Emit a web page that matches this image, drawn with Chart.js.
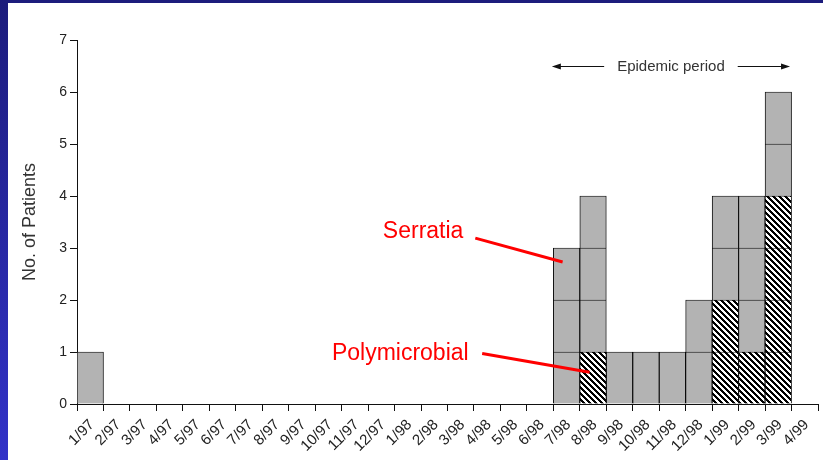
<!DOCTYPE html>
<html>
<head>
<meta charset="utf-8">
<script src="https://cdn.jsdelivr.net/npm/chart.js@4.4.0/dist/chart.umd.min.js"></script>
<style>
html, body { margin: 0; padding: 0; background: #fff; }
#wrap { position: relative; width: 823px; height: 460px; overflow: hidden; }
#frameTop { position: absolute; left: 0; top: 0; width: 823px; height: 3px; background: #1c1c7c; }
#frameLeft { position: absolute; left: 0; top: 0; width: 8px; height: 460px; background: linear-gradient(#1c1c7c, #3232c8); }
canvas { position: absolute; left: 0; top: 0; }
</style>
</head>
<body>
<div id="wrap">
  <canvas id="chart" width="823" height="460"></canvas>
  <div id="frameTop"></div>
  <div id="frameLeft"></div>
</div>
<script>
// month tick labels, one per tick (bars sit between ticks)
var monthLabels = ['1/97','2/97','3/97','4/97','5/97','6/97','7/97','8/97','9/97','10/97','11/97','12/97',
                   '1/98','2/98','3/98','4/98','5/98','6/98','7/98','8/98','9/98','10/98','11/98','12/98',
                   '1/99','2/99','3/99','4/99'];
// patients per month, 1/97 .. 3/99
var serratiaOnly  = [1,0,0,0,0,0,0,0,0,0,0,0, 0,0,0,0,0,0,3,3,1,1,1,2, 2,3,2];
var polymicrobial = [0,0,0,0,0,0,0,0,0,0,0,0, 0,0,0,0,0,0,0,1,0,0,0,0, 2,1,4];
var yTicks = [0,1,2,3,4,5,6,7];

var FONT = '"Liberation Sans", Arial, Helvetica, sans-serif';
var GRAY = '#b3b3b3';

// diagonal hatch for polymicrobial cells
function makeHatch() {
    var c = document.createElement('canvas');
    c.width = 6; c.height = 6;
    var g = c.getContext('2d');
    var img = g.createImageData(6, 6);
    for (var y = 0; y < 6; y++) {
        for (var x = 0; x < 6; x++) {
            var t = ((x - y) % 6 + 6) % 6;
            var v = t < 3 ? 0 : 255;
            var k = (y * 6 + x) * 4;
            img.data[k] = v; img.data[k+1] = v; img.data[k+2] = v; img.data[k+3] = 255;
        }
    }
    g.putImageData(img, 0, 0);
    return g.createPattern(c, 'repeat');
}
var hatch = makeHatch();

// one stacked dataset per layer so every patient is its own box
var totals = serratiaOnly.map(function (s, i) { return s + polymicrobial[i]; });
var maxTotal = Math.max.apply(null, totals);
var datasets = [];
for (var k = 0; k < maxTotal; k++) {
    datasets.push({
        data: totals.map(function (t, i) { return { x: i + 0.5, y: k < t ? 1 : null }; }),
        backgroundColor: polymicrobial.map(function (p) { return k < p ? hatch : GRAY; }),
        borderColor: '#000',
        borderWidth: 0.9,
        barPercentage: 1,
        categoryPercentage: 1
    });
}

var notes = [
    { text: 'Serratia',      tx: 14.6, ty: 3.2,  from: [15.05, 3.19], to: [18.35, 2.73] },
    { text: 'Polymicrobial', tx: 14.8, ty: 0.84, from: [15.31, 0.97], to: [19.37, 0.61] }
];
var epidemic = { start: 18, end: 27, y: 6.5, text: 'Epidemic period' };

var annotate = {
    id: 'annotate',
    afterDatasetsDraw: function (chart) {
        var ctx = chart.ctx, xs = chart.scales.x, ys = chart.scales.y;
        ctx.save();
        // epidemic period arrows
        var ey = Math.round(ys.getPixelForValue(epidemic.y)) + 0.5;
        var x1 = xs.getPixelForValue(epidemic.start) - 1.5;
        var x2 = xs.getPixelForValue(epidemic.end) - 1.5;
        var cx = (x1 + x2) / 2;
        ctx.font = '15px ' + FONT;
        ctx.fillStyle = '#333';
        ctx.textAlign = 'center';
        ctx.textBaseline = 'middle';
        ctx.fillText(epidemic.text, cx, ey);
        var half = ctx.measureText(epidemic.text).width / 2 + 13;
        ctx.strokeStyle = '#111';
        ctx.lineWidth = 1;
        ctx.beginPath();
        ctx.moveTo(x1 + 6, ey); ctx.lineTo(cx - half, ey);
        ctx.moveTo(cx + half, ey); ctx.lineTo(x2 - 6, ey);
        ctx.stroke();
        ctx.fillStyle = '#111';
        ctx.beginPath();
        ctx.moveTo(x1, ey); ctx.lineTo(x1 + 9, ey - 3); ctx.lineTo(x1 + 9, ey + 3); ctx.closePath();
        ctx.moveTo(x2, ey); ctx.lineTo(x2 - 9, ey - 3); ctx.lineTo(x2 - 9, ey + 3); ctx.closePath();
        ctx.fill();
        // red callouts
        ctx.font = '23px ' + FONT;
        ctx.fillStyle = '#ff0000';
        ctx.strokeStyle = '#ff0000';
        ctx.lineWidth = 3;
        ctx.textAlign = 'right';
        ctx.textBaseline = 'alphabetic';
        notes.forEach(function (n) {
            ctx.fillText(n.text, xs.getPixelForValue(n.tx), ys.getPixelForValue(n.ty));
            ctx.beginPath();
            ctx.moveTo(xs.getPixelForValue(n.from[0]), ys.getPixelForValue(n.from[1]));
            ctx.lineTo(xs.getPixelForValue(n.to[0]), ys.getPixelForValue(n.to[1]));
            ctx.stroke();
        });
        ctx.restore();
    }
};

var ctx = document.getElementById('chart').getContext('2d');
var chart = new Chart(ctx, {
    type: 'bar',
    data: { datasets: datasets },
    plugins: [annotate],
    options: {
        responsive: false,
        animation: false,
        layout: { padding: { left: 0, top: 40, right: 5, bottom: 0 } },
        plugins: { legend: { display: false }, tooltip: { enabled: false } },
        scales: {
            x: {
                type: 'linear',
                stacked: true,
                offset: false,
                min: 0,
                max: monthLabels.length,
                afterBuildTicks: function (scale) {
                    scale.ticks = [];
                    for (var i = 0; i <= monthLabels.length; i++) scale.ticks.push({ value: i });
                },
                afterFit: function (scale) {
                    scale.height = 56;
                    scale.paddingLeft = 0;
                    scale.paddingRight = 0;
                },
                grid: { offset: false, drawOnChartArea: false, drawTicks: true, tickLength: 7, color: '#111' },
                border: { display: true, color: '#111', width: 1 },
                ticks: {
                    autoSkip: false,
                    maxRotation: 45,
                    minRotation: 45,
                    labelOffset: 15,
                    padding: 5,
                    color: '#222',
                    font: { family: FONT, size: 15 },
                    callback: function (v) { return monthLabels[v] || ''; }
                }
            },
            y: {
                stacked: true,
                min: 0,
                max: yTicks[yTicks.length - 1],
                afterBuildTicks: function (scale) {
                    scale.ticks = yTicks.map(function (v) { return { value: v }; });
                },
                afterFit: function (scale) { scale.width = 77; },
                grid: { drawOnChartArea: false, drawTicks: true, tickLength: 7, color: '#111' },
                border: { display: true, color: '#111', width: 1 },
                ticks: {
                    padding: 3,
                    color: '#222',
                    font: { family: FONT, size: 14 }
                },
                title: {
                    display: true,
                    text: 'No. of Patients',
                    color: '#333',
                    font: { family: FONT, size: 18 },
                    padding: { top: 19, bottom: 0 }
                }
            }
        }
    }
});
</script>
</body>
</html>
